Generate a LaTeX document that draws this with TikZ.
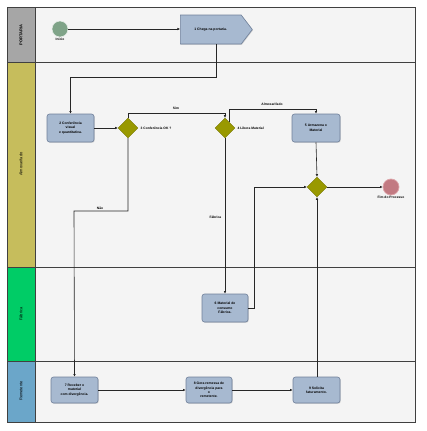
\documentclass[tikz,border=0pt]{standalone}
\usepackage{fontspec}
\setmainfont{Liberation Sans}
\usetikzlibrary{shapes.geometric,shapes.symbols,arrows.meta,calc,shadows}

\definecolor{bgpool}{HTML}{F4F4F4}
\definecolor{hdport}{HTML}{A6A6A6}
\definecolor{hdalmox}{HTML}{C6BD5C}
\definecolor{hdfab}{HTML}{00CC66}
\definecolor{hdrem}{HTML}{6BA6C9}
\definecolor{taskfill}{HTML}{A7B9D0}
\definecolor{taskline}{HTML}{6F809A}
\definecolor{gatefill}{HTML}{999900}
\definecolor{gateline}{HTML}{767600}
\definecolor{startfill}{HTML}{7FA388}
\definecolor{endfill}{HTML}{C27A82}
\definecolor{endline}{HTML}{DDA5AA}

\newcommand{\taskfont}{\fontsize{3.4}{4.4}\selectfont\bfseries}
\newcommand{\labfont}{\fontsize{3.3}{4}\selectfont\bfseries}
\newcommand{\lanefont}{\fontsize{4}{5}\selectfont}

\tikzset{
  frame/.style={draw=black!75, line width=0.8pt},
  task/.style={draw=taskline, fill=taskfill, rounded corners=2.5pt, line width=0.6pt,
    drop shadow={shadow xshift=0.7pt, shadow yshift=-0.7pt, opacity=0.35},
    align=center, font=\taskfont, inner sep=1pt},
  gate/.style={diamond, draw=gateline, fill=gatefill, minimum width=20pt,
    minimum height=20pt, inner sep=0pt, line width=0.4pt},
  flow/.style={draw=black!85, line width=0.6pt, -{Latex[length=2.6pt,width=2.6pt]}},
  lbl/.style={font=\labfont, inner sep=0.5pt},
  lanetitle/.style={rotate=90, font=\lanefont}
}

\begin{document}
\begin{tikzpicture}[x=1pt, y=-1pt]
  \useasboundingbox (0,0) rectangle (426,431);

  % pool background and lane headers
  \fill[bgpool] (35,7) rectangle (415,422);
  \fill[hdport] (7,7) rectangle (35,62);
  \fill[hdalmox] (7,62) rectangle (35,267);
  \fill[hdfab] (7,267) rectangle (35,361);
  \fill[hdrem] (7,361) rectangle (35,422);
  \draw[frame] (7,7) rectangle (415,422);
  \draw[frame] (35,7) -- (35,422);
  \draw[frame] (7,62) -- (415,62);
  \draw[frame] (7,267) -- (415,267);
  \draw[frame] (7,361) -- (415,361);

  \node[lanetitle, font=\lanefont\bfseries] (lp) at (21,35) {PORTARIA};
  \node[lanetitle] (la) at (21,164) {Almoxarifado};
  \node[lanetitle] (lf) at (21,314) {Fábrica};
  \node[lanetitle] (lr) at (21,391) {Remetente};

  % events
  \node[circle, draw=white!85!startfill, fill=startfill, minimum size=16pt, inner sep=0pt, line width=0.5pt] (ini) at (60,29) {};
  \node[lbl, anchor=north] (inil) at (60,37.5) {Início};
  \node[circle, draw=endline, fill=endfill, minimum size=16pt, inner sep=0pt, line width=0.7pt] (fim) at (391,187) {};
  \node[lbl, anchor=north] (fiml) at (391,195.5) {Fim do Processo};

  % tasks
  \node[signal, signal to=east, signal pointer angle=105, draw=taskline, fill=taskfill,
    line width=0.6pt, minimum width=72pt, minimum height=29pt, font=\taskfont,
    inner sep=1pt, anchor=west, drop shadow={shadow xshift=0.7pt, shadow yshift=-0.7pt, opacity=0.35}]
    (t1) at (180,29.5) {1 Chega na portaria.};
  \node[task, minimum width=47pt, minimum height=28pt] (t2) at (70.5,128) {2 Conferência\\visual\\e quantitativa.};
  \node[task, minimum width=48pt, minimum height=28pt] (t5) at (316,128) {5 Armazena o\\Material};
  \node[task, minimum width=46pt, minimum height=28pt] (t6) at (225,308) {6 Material de\\consumo\\Fábrica.};
  \node[task, minimum width=47pt, minimum height=26pt] (t7) at (74.5,390) {7 Receber o\\material\\com divergência.};
  \node[task, minimum width=46pt, minimum height=26pt] (t8) at (209,390) {8 Gera remessa de\\divergência para\\o\\remetente.};
  \node[task, minimum width=47pt, minimum height=26pt] (t9) at (316.5,390) {9 Solicita\\faturamento.};

  % gateways
  \node[gate] (g3) at (128,128) {};
  \node[lbl, anchor=west] (g3l) at (140,128) {3 Conferência OK ?};
  \node[gate] (g4) at (225,128) {};
  \node[lbl, anchor=west] (g4l) at (237,128) {4 Libera Material};
  \node[gate] (gm) at (317,187) {};

  % flows
  \coordinate (c216) at (216,0);
  \draw[flow] (ini) -- (t1.west |- ini);
  \draw[flow] (c216 |- t1.south) -- (216,77) -| (t2.north);
  \draw[flow] (t2) -- (g3);
  \draw[flow] (g3.north) |- (225,113) -- (g4.north);
  \node[lbl] (sim) at (176,108) {Sim};
  \coordinate (g4out) at ($(g4.north)!0.4!(g4.east)$);
  \draw[flow] (g4out) -- (g4out |- 0,109) -| (t5.north);
  \node[lbl] (alm) at (272,104) {Almoxarifado};
  \draw[flow] (g3.south) |- (74,211) -- (t7.north);
  \node[lbl] (nao) at (100,208) {Não};
  \draw[flow] (g4.south) -- (t6.north);
  \node[lbl, anchor=east] (fab) at (222,217) {Fábrica};
  \draw[flow] (t5.south) -- (gm.north);
  \draw[flow] (t6.east) -- (254,308) |- (gm.west);
  \draw[flow] (t9.north -| gm.south) -- (gm.south);
  \draw[flow] (gm.east) -- (fim.west);
  \draw[flow] (t7) -- (t8);
  \draw[flow] (t8) -- (t9);
\end{tikzpicture}
\end{document}
